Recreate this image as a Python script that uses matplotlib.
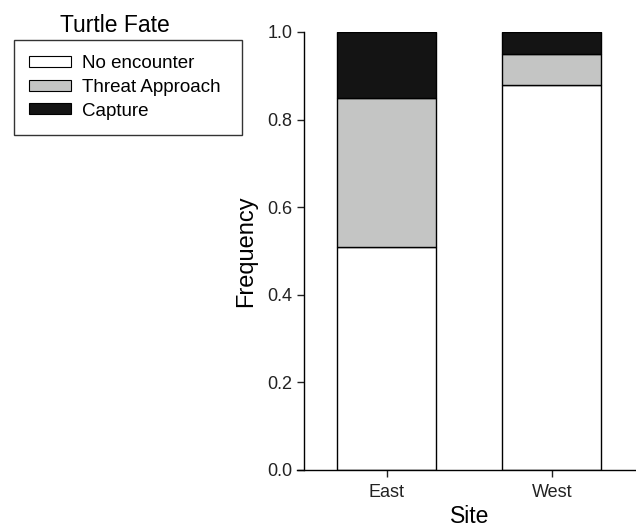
import matplotlib
matplotlib.use("Agg")
import matplotlib.pyplot as plt
from matplotlib.patches import Patch

plt.rcParams['font.family'] = ['Liberation Sans', 'DejaVu Sans']

sites = ["East", "West"]
no_encounter = [0.51, 0.88]
threat_approach = [0.34, 0.07]
capture = [0.15, 0.05]
fate_labels = ["No encounter", "Threat Approach", "Capture"]
fate_colors = ["white", "#c4c5c4", "#141414"]

fig = plt.figure(figsize=(6.36, 5.30), dpi=100)
ax = fig.add_axes([304/636, 1-470/530, 332/636, 438/530])

x = list(range(len(sites)))
bottom = [0.0] * len(sites)
for vals, col in zip([no_encounter, threat_approach, capture], fate_colors):
    ax.bar(x, vals, width=0.6, bottom=bottom, color=col, edgecolor="black", linewidth=1.0)
    bottom = [b + v for b, v in zip(bottom, vals)]

ax.set_xlim(-0.5, 1.51)
ax.set_ylim(0, 1.0)
ax.set_xticks(x)
ax.set_xticklabels(sites, fontsize=13)
ax.set_yticks([0.0, 0.2, 0.4, 0.6, 0.8, 1.0])
ax.set_yticklabels(["0.0", "0.2", "0.4", "0.6", "0.8", "1.0"], fontsize=13)
ax.tick_params(direction="out", length=5, width=1, colors="#222222", labelcolor="#222222")
ax.tick_params(axis="x", pad=5)
for s in ["top", "right"]:
    ax.spines[s].set_visible(False)
ax.spines["left"].set_linewidth(1)
ax.spines["bottom"].set_linewidth(1)
ax.spines["bottom"].set_bounds(-0.54, 1.51)
ax.set_ylabel("Frequency", fontsize=17, labelpad=7)
ax.set_xlabel("Site", fontsize=16.5, labelpad=3)

handles = [Patch(facecolor=c, edgecolor="black", linewidth=0.8) for c in fate_colors]
leg = fig.legend(handles, fate_labels, loc="upper left", mode="expand",
                 bbox_to_anchor=(14/636, 1-135/530, 228/636, 95/530), borderaxespad=0,
                 fontsize=13.5, frameon=True, fancybox=False, edgecolor="black",
                 handlelength=2.24, handleheight=0.53, handletextpad=0.6,
                 borderpad=0.8, labelspacing=0.36)
leg.get_frame().set_linewidth(1.0)
fig.text(115/636, 1-25/530, "Turtle Fate", fontsize=16.5, ha="center", va="center")

fig.savefig("out.png", dpi=100)
